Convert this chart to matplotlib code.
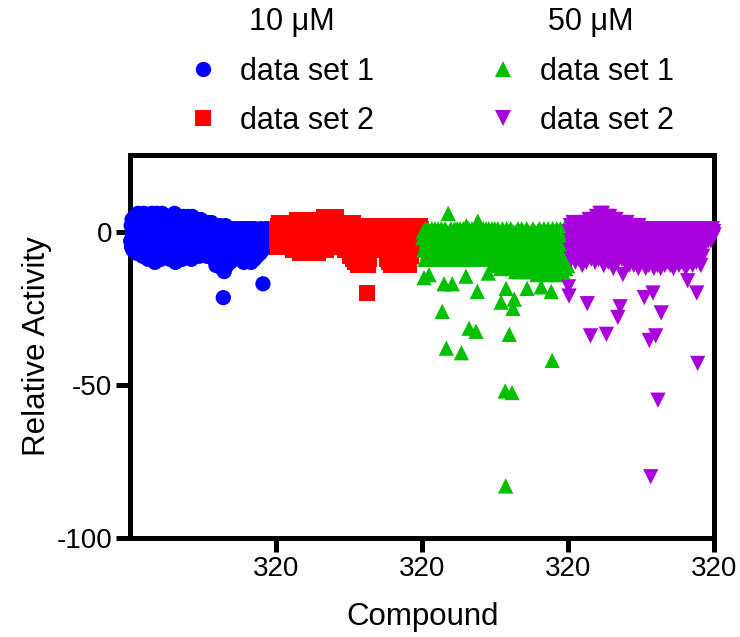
import matplotlib
matplotlib.use("Agg")
import matplotlib.pyplot as plt
from matplotlib.lines import Line2D
import numpy as np

plt.rcParams['font.family'] = ['Liberation Sans', 'DejaVu Sans']
plt.rcParams['axes.unicode_minus'] = False

# Relative activity of 320 compounds per screen, in compound order
set1_10uM = [
    -3, 2, -5, 4, -1, -6, 1, 3, -2, 5, -4, 0, 2, -7, 4, -1, 6, -3, 1, -5,
    3, -2, 5, -6, 0, 4, -8, 2, -1, 6, -4, 1, 3, -7, 5, -2, 0, 4, -9, 2,
    -3, 5, 1, -6, 3, -1, 6, -8, 2, 4, -4, 0, 5, -10, 3, -2, 1, 6, -5, 2,
    -1, 4, -7, 3, 0, 5, -9, 2, -3, 6, 1, -5, 4, -2, 3, -8, 5, 0, -4, 2,
    4, -6, 1, 5, -3, 2, -9, 3, 0, 5, -2, -7, 4, 1, -5, 3, 6, -1, -10, 2,
    0, 5, -4, 2, -8, 3, 1, -2, 5, -6, 4, -1, 2, -9, 3, 0, 5, -3, 1, -7,
    4, -2, 3, -5, 1, 5, -8, 2, -1, 4, -6, 0, 3, -9, 2, 5, -3, 1, -4, 4,
    -2, 3, -7, 1, 4, -1, 2, -5, 3, 0, -8, 2, 1, -3, 4, -6, 0, 2, -4, 1,
    -1, 3, -6, 2, 0, -3, 1, -8, 2, -2, 3, -5, 0, 1, -7, 2, -1, 3, -4, 0,
    1, -3, -9, 0, 2, -5, -1, -11, 1, -2, 0, -7, -4, 1, -10, -1, 2, -6, -3, 0,
    -12, -2, 1, -21.5, -4, -13, 0, -6, 2, -9, -1, -11, 1, -5, -3, -8, 0, -2, -10, 1,
    -4, -1, -7, 0, -3, -9, 1, -5, -2, 0, -6, -3, 1, -8, -1, -4, 0, -7, -2, 1,
    -3, -9, 0, -5, -1, -7, 1, -4, -10, 0, -2, -6, 1, -3, -8, 0, -5, -1, -9, 1,
    -2, -6, 0, -4, -10, 1, -3, -7, 0, -1, -5, -9, 1, -2, -6, 0, -4, -8, -1, 0,
    -3, 0, -5, -1, -7, 1, -2, -4, 0, -6, -17, -1, -3, 0, -5, -2, 1, -4, 0, -3,
    -1, -4, 0, -2, 1, -5, -1, 0, -3, 1, -2, -4, 0, -1, -3, 1, -2, 0, -4, -1,
]

set2_10uM = [
    1, -3, 2, -5, 0, 3, -2, -4, 2, 1, -5, 0, 3, -1, -3, 2, -4, 1, 0, -2,
    3, -1, -5, 2, 0, -3, 1, 3, -4, -1, 2, 0, -5, 3, 1, -2, -6, 2, 0, 3,
    -3, 1, -6, 4, 0, -2, 3, -5, 1, 2, -7, 0, 3, -1, -4, 4, 1, -6, 2, -2,
    3, -4, 0, 4, -7, 1, -2, 3, -5, 2, 0, -6, 4, 1, -3, 2, -7, 0, 3, -1,
    2, -5, 4, 0, -2, 3, -6, 1, 4, -3, 0, -7, 2, 3, -1, -5, 4, 0, -2, 3,
    -6, 1, 5, -3, 0, 4, -5, 2, 5, -2, -6, 1, 3, -4, 5, 0, -3, 2, -5, 4,
    1, -4, 5, 0, -2, 3, -5, 4, 1, -3, 5, -1, -4, 2, 3, -5, 0, 2, -3, 1,
    -4, 2, 0, 3, -5, 1, -2, 2, -6, 0, 3, -3, 1, -5, 2, 0, -4, 3, -2, -6,
    2, -8, 0, 1, -4, 2, -9, -1, 3, -5, 0, -10, 2, -3, 1, -7, 0, 2, -11, -2,
    1, -6, -9, 0, 2, -4, -11, 1, -2, -8, 0, -5, 2, -10, -1, 1, -7, -3, -20, 0,
    -11, 2, -4, 0, -9, 1, -6, -2, 2, -5, 0, -3, 1, -6, 2, -1, -4, 0, 2, -5,
    1, -3, 0, -6, 2, -2, -4, 1, 0, -5, 2, -3, -1, 0, 2, -4, 1, -2, 0, -6,
    2, -9, 0, -3, 1, -10, -2, 2, -5, 0, -11, 1, -4, 2, -8, -1, 0, -10, 2, -3,
    0, -7, 2, -11, -1, 1, -5, -9, 2, 0, -3, -10, 1, -6, 2, -2, -11, 0, 1, -8,
    -4, 2, 0, -10, -1, 2, -6, -9, 1, -3, 0, -11, 2, -5, -1, 1, -8, 0, -3, 2,
    -2, 0, -5, 2, -1, -4, 1, -3, 0, 2, -5, -1, 1, -4, 0, 2, -3, -1, 1, -2,
]

set1_50uM = [
    -2, 0, -6, -15, -1, -9, 1, -4, -3, 0, -7, -2, 1, -5, -14, -8, 0, -3, -1, -6,
    1, -4, -9, -2, 0, -6, -3, 1, -8, -1, -5, 0, -2, -7, 1, -4, -9, 0, -3, -6,
    -1, 1, -5, -26, -2, -8, 0, -17, -4, 1, -7, -3, -38, 0, -6, -2, 6, -9, -1, -4,
    0, -5, 1, -3, -8, -17, -1, 0, -6, -2, 1, -9, -4, 0, -3, -7, 1, -5, -2, 0,
    -8, -1, 1, -4, -6, -39.5, 0, -2, -9, 1, -5, -3, 0, -7, -1, -14.5, 2, -4, -8, 0,
    -2, 1, -31.5, -6, -3, 0, -9, -1, 1, -5, -4, 0, -8, -2, 1, -6, -3, -32.5, 0, -7,
    -19.5, 3.5, -1, -5, 0, -9, -3, 1, -6, -2, 0, -8, -4, 1, -1, -7, 0, -3, -9, 1,
    -5, -2, 0, -8, -13.5, 1, -4, -1, -6, 0, -9, -3, 1, -7, -2, 0, -5, -10, 1, -4,
    -1, -8, 0, -3, -11, 1, -6, -2, -9, 0, -4, -12, -23, -1, -7, 1, -3, -10, 0, -5,
    -2, -52, -83, -18.5, 1, -8, -4, -11, 0, -6, -33.5, -2, -12, 1, -9, -3, -52.5, -7, -25, 0,
    -5, -22, -10, -1, -13, 0, -8, -3, -11, 1, -6, -12, -2, 0, -9, -4, -13, 1, -7, -2,
    -10, 0, -5, -12, -1, -8, -3, -13, 1, -18.5, -6, -2, -11, 0, -9, -4, -13, -1, -7, 0,
    -12, -3, 1, -9, -6, -13, 0, -2, -10, -5, -1, -14, 0, -7, -3, -11, 1, -8, -4, -13,
    -18, 0, -6, -2, -12, -9, 1, -4, -13, -1, -7, 0, -10, -3, -14, 1, -5, -8, -2, -12,
    0, -9, -19.5, -4, -42, 1, -6, -13, -2, -10, 0, -7, -3, -14, 1, -5, -11, -1, -8, 0,
    -4, -12, 1, -6, -2, -9, 0, -13, -3, -7, 1, -10, -5, -1, -12, 0, -8, -3, -11, -1,
]

set2_50uM = [
    -18, -21, 0, -6, 2, -3, -9, 1, -1, -5, 3, -8, 0, -2, 2, -10, -4, 1, -6, 0,
    2, -3, -9, 1, -5, 0, 3, -7, -2, 1, -11, 0, 2, -4, -8, 1, -1, -6, 3, -10,
    0, -23.5, -3, 2, -8, 4, -1, -5, -34, 1, -9, 3, -2, 0, -7, 4, -4, 1, -10, 2,
    -1, 5, -6, 0, -3, 4, -9, 1, -2, 6, -5, 3, 0, -8, 6, -1, 2, -11, 4, -3,
    1, -7, 5, -33.5, 0, 3, -4, -10, 2, -1, 5, -6, 0, 3, -9, 1, -3, 4, -12, 0,
    3, -5, 1, -8, 4, -2, 0, -10, -28, 2, -4, 3, -7, -24.5, 1, -3, 2, -9, 0, -14,
    3, -6, 1, -2, -10, 2, 0, -5, 3, -8, 1, -3, 2, -11, 0, -6, 2, -1, -9, 1,
    -4, 2, 0, -11, 1, -7, -2, 2, -9, 0, -5, 1, -3, -12, 2, 0, -8, -1, 1, -6,
    0, -10, 1, -3, -7, 0, -21.5, 1, -5, -12, 0, -2, 1, -9, -4, 0, -11, -35.5, 1, -6,
    -80, -2, 0, -10, 1, -20, -4, -12, 0, -7, 1, -34, -3, -9, 0, -11, -55, 1, -5, -2,
    -8, 0, -12, -26.5, 1, -4, -10, 0, -6, -2, 1, -11, -3, 0, -8, -1, 1, -5, -10, 0,
    -3, 1, -7, -11, 0, -2, -9, 1, -5, 0, -12, -1, 1, -6, -3, 0, -10, 1, -4, -8,
    0, -2, -11, 1, -5, 0, -8, -3, 1, -10, 0, -6, -1, 1, -9, -4, 0, -12, -2, 1,
    -7, -16, 0, -3, -10, 1, -5, -1, 0, -9, -4, 1, -11, -2, 0, -6, 1, -8, -3, 0,
    -10, -20, 1, -43, -4, 0, -9, -2, 1, -6, -11, 0, -3, 1, -8, -1, 0, -5, -2, 1,
    -3, 0, -1, 1, -2, 0, -3, 1, -1, -2, 0, 1, -3, -1, 0, 1, -2, -1, 0, -1,
]

series = [
    ("data set 1", set1_10uM, "o", "#0000FF"),
    ("data set 2", set2_10uM, "s", "#FF0000"),
    ("data set 1", set1_50uM, "^", "#00C000"),
    ("data set 2", set2_50uM, "v", "#A800DC"),
]
n_compounds = 320
tick_labels = ["320", "320", "320", "320"]

fig = plt.figure(figsize=(7.4, 6.37), dpi=100)
ax = fig.add_axes([0.176, 0.1554, 0.789, 0.601])

handles = []
for k, (label, values, marker, color) in enumerate(series):
    x = k * n_compounds + np.arange(1, len(values) + 1)
    ax.scatter(x, values, s=121, marker=marker, color=color,
               edgecolors="none", clip_on=False, zorder=3)
    handles.append(Line2D([], [], linestyle="none", marker=marker,
                          markersize=11, color=color, markeredgewidth=0))

ax.set_xlim(0, 4 * n_compounds)
ax.set_ylim(-100, 25)
ax.set_xticks([n_compounds * (k + 1) for k in range(4)])
ax.set_xticklabels(tick_labels)
ax.set_yticks([0, -50, -100])

for sp in ax.spines.values():
    sp.set_linewidth(3.6)
ax.tick_params(axis="both", width=3.6, length=10, labelsize=20, pad=3)

ax.set_xlabel("Compound", fontsize=22.5, labelpad=14)
ax.set_ylabel("Relative Activity", fontsize=22.5, labelpad=3)

leg_kw = dict(loc="upper left", frameon=False, fontsize=22, handlelength=1.0,
              handletextpad=0.7, labelspacing=0.62, borderpad=0, borderaxespad=0)
leg1 = fig.legend(handles[:2], [s[0] for s in series[:2]],
                  bbox_to_anchor=(188 / 740, 1 - 57 / 637), **leg_kw)
leg2 = fig.legend(handles[2:], [s[0] for s in series[2:]],
                  bbox_to_anchor=(488 / 740, 1 - 57 / 637), **leg_kw)

fig.text(249 / 740, 1 - 22 / 637, "10 μM", fontsize=22, va="center", ha="left")
fig.text(548 / 740, 1 - 22 / 637, "50 μM", fontsize=22, va="center", ha="left")

fig.savefig("out.png", dpi=100)
